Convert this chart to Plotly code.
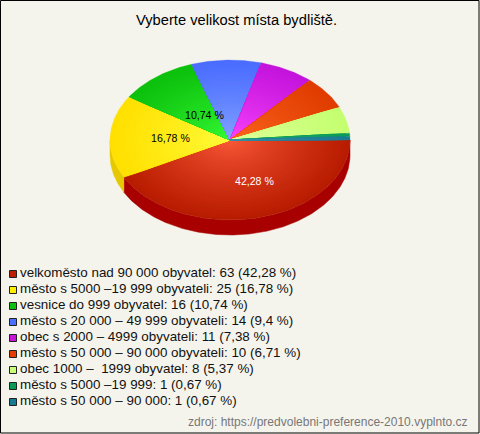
import math
import plotly.graph_objects as go

categories = [
    "velkoměsto nad 90 000 obyvatel",
    "město s 5000 –19 999 obyvateli",
    "vesnice do 999 obyvatel",
    "město s 20 000 – 49 999 obyvateli",
    "obec s 2000 – 4999 obyvateli",
    "město s 50 000 – 90 000 obyvateli",
    "obec 1000 –  1999 obyvatel",
    "město s 5000 –19 999",
    "město s 50 000 – 90 000",
]
counts = [63, 25, 16, 14, 11, 10, 8, 1, 1]
percent_labels = ["42,28", "16,78", "10,74", "9,4", "7,38", "6,71", "5,37", "0,67", "0,67"]
outer_colors = ["#b81c00", "#ffe000", "#0cc00c", "#4a6cff", "#c414dc", "#e03c00", "#c4ff70", "#0a9a55", "#187a92"]
inner_colors = ["#ff5c3c", "#ffff40", "#38ff38", "#88a8ff", "#ff48ff", "#ff6a22", "#e2ffa0", "#30b878", "#4098b0"]
side_colors = ["#a80000", "#e6c800", "#0a9a0a", "#3a58d0", "#a010b0", "#b83000", "#a0d060", "#087a44", "#106070"]
legend_colors = ["#c01c00", "#ffee00", "#10c010", "#4a70ff", "#c814d8", "#e63c00", "#c8ff78", "#0a9a55", "#187a92"]
title_text = "Vyberte velikost místa bydliště."
source_text = "zdroj: https://predvolebni-preference-2010.vyplnto.cz"

CX, CY, RX, RY, DEPTH = 230, 140, 120, 80, 15
BG = "#f5f4ec"
STEPS = 30

def lerp(c1, c2, t):
    a = [int(c1[i:i + 2], 16) for i in (1, 3, 5)]
    b = [int(c2[i:i + 2], 16) for i in (1, 3, 5)]
    return "rgb(%d,%d,%d)" % tuple(round(p + (q - p) * t) for p, q in zip(a, b))

total = sum(counts)
fractions = [c / total for c in counts]
edges = [0.0]
for f in fractions:
    edges.append(edges[-1] + f)

def arc(a0, a1, k=1.0, dy=0.0):
    n = max(2, int(abs(a1 - a0) * 90))
    ang = [a0 + (a1 - a0) * i / n for i in range(n + 1)]
    return [CX + k * RX * math.cos(t) for t in ang], [CY + dy + k * RY * math.sin(t) for t in ang]

fig = go.Figure()

# side wall (only the front half of the ellipse is visible)
for i in range(len(counts)):
    a0, a1 = edges[i] * 2 * math.pi, edges[i + 1] * 2 * math.pi
    a1v = min(a1, math.pi)
    if a0 >= math.pi:
        continue
    x1, y1 = arc(a0, a1v)
    x2, y2 = arc(a1v, a0, dy=DEPTH)
    fig.add_trace(go.Scatter(x=x1 + x2 + [x1[0]], y=y1 + y2 + [y1[0]], mode="lines", fill="toself",
                             fillcolor=side_colors[i], line=dict(color=side_colors[i], width=0.5),
                             hoverinfo="skip", showlegend=False))

# top face: concentric fills make the radial gradient
for i in range(len(counts)):
    a0, a1 = edges[i] * 2 * math.pi, edges[i + 1] * 2 * math.pi
    for s in range(STEPS):
        k = 1 - s / STEPS
        col = lerp(inner_colors[i], outer_colors[i], min(1.0, k ** 0.75))
        x, y = arc(a0, a1, k)
        xs, ys = [CX] + x + [CX], [CY] + y + [CY]
        fig.add_trace(go.Scatter(x=xs, y=ys, mode="lines", fill="toself", fillcolor=col,
                                 line=dict(color=col, width=0.3), hoverinfo="skip", showlegend=False))

# legend rows
rows = [274 + 16 * i for i in range(len(categories))]
legend_text = ["%s: %d (%s %%)" % (c, n, p) for c, n, p in zip(categories, counts, percent_labels)]
fig.add_trace(go.Scatter(x=[13] * len(rows), y=rows, mode="markers",
                         marker=dict(symbol="square", size=7, color=legend_colors,
                                     line=dict(color="#222222", width=1)),
                         hoverinfo="skip", showlegend=False))
fig.add_trace(go.Scatter(x=[20] * len(rows), y=rows, mode="text", text=legend_text, textposition="middle right",
                         textfont=dict(family="Liberation Sans", size=13.4, color="#111111"),
                         hoverinfo="skip", showlegend=False))

# labels on the three largest slices
label_offsets = {0: (10, 2, "#ffffff"), 1: (0, 0, "#000000"), 2: (11, 6, "#000000")}
annotations = []
for i, (ox, oy, col) in label_offsets.items():
    mid = (edges[i] + edges[i + 1]) * math.pi
    annotations.append(dict(x=CX + 0.5 * RX * math.cos(mid) + ox, y=CY + 0.5 * RY * math.sin(mid) + oy,
                            text=percent_labels[i] + " %", showarrow=False,
                            font=dict(family="Liberation Sans", size=10.6, color=col)))
annotations.append(dict(x=236, y=20, text=title_text, showarrow=False,
                        font=dict(family="Liberation Sans", size=14.7, color="#000000")))
annotations.append(dict(x=470, y=422, xanchor="right", text=source_text, showarrow=False,
                        font=dict(family="Liberation Sans", size=12, color="#777777")))

fig.update_layout(
    width=480, height=434, margin=dict(l=0, r=0, t=0, b=0),
    paper_bgcolor=BG, plot_bgcolor=BG,
    xaxis=dict(range=[0, 480], visible=False, fixedrange=True),
    yaxis=dict(range=[434, 0], visible=False, fixedrange=True),
    annotations=annotations,
    shapes=[dict(type="rect", x0=0.5, y0=0.5, x1=479, y1=433, line=dict(color="#000000", width=1),
                 fillcolor="rgba(0,0,0,0)")],
)
fig.write_html("out.html", config=dict(displayModeBar=False),
               post_script="document.body.style.margin='0';document.body.style.overflow='hidden';")
